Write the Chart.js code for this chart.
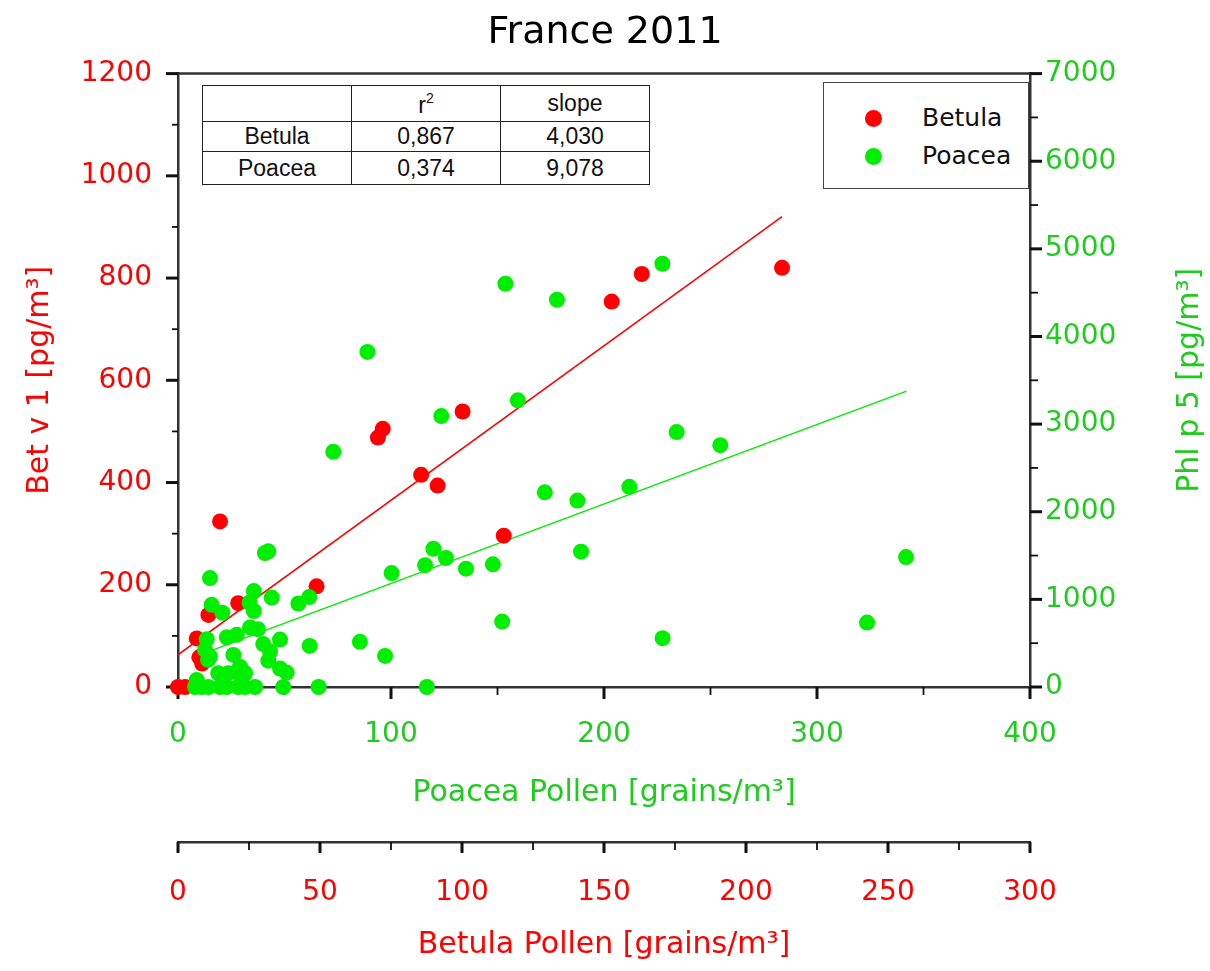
<!DOCTYPE html>
<html>
<head>
<meta charset="utf-8">
<script src="https://cdn.jsdelivr.net/npm/chart.js@4.4.1/dist/chart.umd.min.js"></script>
<style>
html,body{margin:0;padding:0;background:#fff;}
#wrap{position:relative;width:1210px;height:971px;overflow:hidden;}
#c{position:absolute;left:0;top:0;}
table.stats{position:absolute;left:202px;top:85px;border-collapse:collapse;font-family:"Liberation Sans",Arial,sans-serif;font-size:23px;color:#111;background:#fff;}
table.stats td{border:1.5px solid #222;text-align:center;padding:0;width:148px;line-height:1;}
table.stats sup{font-size:14px;vertical-align:10px;}
#legend{position:absolute;left:823px;top:82px;width:204px;height:105px;border:1.5px solid #444;background:#fff;font-family:"DejaVu Sans",sans-serif;font-size:25px;color:#111;}
#legend .row{position:absolute;left:0;height:30px;line-height:30px;}
#legend .dot{position:absolute;left:41px;top:7px;width:17px;height:17px;border-radius:50%;}
#legend .lab{position:absolute;left:98px;top:0;white-space:nowrap;}
</style>
</head>
<body>
<div id="wrap">
<canvas id="c" width="1210" height="971"></canvas>
<table class="stats">
<tr style="height:36px"><td></td><td>r<sup>2</sup></td><td>slope</td></tr>
<tr style="height:30px"><td>Betula</td><td>0,867</td><td>4,030</td></tr>
<tr style="height:33px"><td>Poacea</td><td>0,374</td><td>9,078</td></tr>
</table>
<div id="legend">
<div class="row" style="top:20px"><span class="dot" style="background:#ff0000"></span><span class="lab">Betula</span></div>
<div class="row" style="top:58px"><span class="dot" style="background:#00ee00"></span><span class="lab">Poacea</span></div>
</div>
</div>
<script>
// ---- Data ----
// Betula: pollen (grains/m3, lower red axis) vs Bet v 1 (pg/m3, left axis)
const betulaPollen = [0, 2.5, 6.6, 7.5, 8.5, 10.7, 14.8, 21.2, 48.8, 70.4, 72.1, 85.6, 91.4, 100.2, 114.7, 152.7, 163.3, 212.7];
const betV1        = [0, 0, 95, 58, 46, 141, 324, 164, 197, 488, 505, 415, 394, 539, 296, 754, 808, 820];

// Poacea: pollen (grains/m3, upper green axis) vs Phl p 5 (pg/m3, right axis)
const poaceaPollen = [88.9, 153.7, 177.9, 227.4, 72.9, 123.6, 159.5, 234.1, 254.6, 172.2,
  187.5, 211.9, 189.2, 119.9, 125.8, 116, 100.3, 135.2, 147.8, 152.2,
  227.5, 323.5, 341.8, 85.4, 97.2, 116.8, 66, 40.8, 42.4, 15,
  15.8, 20.8, 35.6, 33.6, 35.6, 44, 56.5, 61.6, 61.8, 47.9,
  33.8, 37.5, 13.5, 22.9, 27.6, 12.7, 15, 14.1, 26, 40,
  43.2, 42.4, 47.9, 51, 29.1, 18.9, 31.5, 23.6, 8, 11.1,
  14.2, 19.7, 22.9, 28.3, 31.5, 36.2, 49.4, 8.8, 29.9];
const phlP5 = [3824, 4602, 4419, 4830, 2684, 3092, 3271, 2909, 2760, 2222,
  2127, 2284, 1544, 1578, 1472, 1390, 1300, 1350, 1400, 747,
  557, 735, 1483, 515, 355, 0, 0, 1529, 1548, 1243,
  938, 847, 1095, 964, 867, 1020, 953, 1026, 469, 541,
  680, 660, 545, 568, 595, 423, 347, 309, 366, 490,
  404, 300, 210, 165, 232, 157, 157, 157, 0, 0,
  0, 0, 0, 0, 0, 0, 0, 80, 100];

// Regression line end points
const betulaFitX = [0, 212.7];
const betulaFitY = [63, 920];
const poaceaFitX = [8, 342];
const poaceaFitY = [347, 3377];

// Tick label values
const poaceaTickLabels = [0, 100, 200, 300, 400];
const betulaTickLabels = [0, 50, 100, 150, 200, 250, 300];
const betV1TickLabels  = [0, 200, 400, 600, 800, 1000, 1200];
const phlP5TickLabels  = [0, 1000, 2000, 3000, 4000, 5000, 6000, 7000];

// ---- Styles ----
const RED = '#ff0000';
const GREEN_PT = '#00ee00';
const GREEN_TXT = '#1ecc1e';
const FONT = '"DejaVu Sans", Verdana, sans-serif';
const AXIS = '#333333';
const TICK_SIZE = 28;
const TITLE_SIZE = 30;

const pts = (xs, ys) => xs.map((x, i) => ({x: x, y: ys[i]}));
const labelCb = (list) => (v) => list.includes(v) ? String(v) : '';

const tickMarks = {
  id: 'tickMarks',
  beforeDatasetsDraw(chart) {
    const ctx = chart.ctx;
    const defs = {
      x:  [poaceaTickLabels, 12, 8],
      x2: [betulaTickLabels, 11, 8],
      y:  [betV1TickLabels, 12, 6],
      y2: [phlP5TickLabels, 12, 8]
    };
    ctx.save();
    ctx.strokeStyle = '#111';
    for (const id in defs) {
      const s = chart.scales[id];
      const [labels, lMaj, lMin] = defs[id];
      s.ticks.forEach(t => {
        const maj = labels.includes(t.value);
        const len = maj ? lMaj : lMin;
        ctx.lineWidth = maj ? 3 : 1.8;
        const p = s.getPixelForValue(t.value);
        ctx.beginPath();
        if (s.isHorizontal()) { ctx.moveTo(p, s.top); ctx.lineTo(p, s.top + len); }
        else if (s.position === 'left') { ctx.moveTo(s.right, p); ctx.lineTo(s.right - len, p); }
        else { ctx.moveTo(s.left, p); ctx.lineTo(s.left + len, p); }
        ctx.stroke();
      });
    }
    // top frame line
    const a = chart.chartArea;
    ctx.strokeStyle = AXIS;
    ctx.lineWidth = 2.5;
    ctx.beginPath();
    ctx.moveTo(a.left, a.top);
    ctx.lineTo(a.right, a.top);
    ctx.stroke();
    // right axis title (reads bottom-to-top)
    ctx.fillStyle = GREEN_TXT;
    ctx.font = TITLE_SIZE + 'px ' + FONT;
    ctx.textAlign = 'center';
    ctx.textBaseline = 'middle';
    ctx.translate(1190, (a.top + a.bottom) / 2);
    ctx.rotate(-Math.PI / 2);
    ctx.fillText('Phl p 5 [pg/m³]', 0, 0);
    ctx.restore();
  }
};

new Chart(document.getElementById('c'), {
  type: 'scatter',
  data: {
    datasets: [
      {label: 'Poacea', data: pts(poaceaPollen, phlP5), xAxisID: 'x', yAxisID: 'y2',
       backgroundColor: GREEN_PT, borderWidth: 0, pointRadius: 8, order: 0, clip: false},
      {label: 'Betula', data: pts(betulaPollen, betV1), xAxisID: 'x2', yAxisID: 'y',
       backgroundColor: RED, borderWidth: 0, pointRadius: 8, order: 1, clip: false},
      {label: 'Betula fit', data: pts(betulaFitX, betulaFitY), xAxisID: 'x2', yAxisID: 'y',
       showLine: true, borderColor: RED, borderWidth: 1.5, pointRadius: 0, order: 2},
      {label: 'Poacea fit', data: pts(poaceaFitX, poaceaFitY), xAxisID: 'x', yAxisID: 'y2',
       showLine: true, borderColor: GREEN_PT, borderWidth: 1.5, pointRadius: 0, order: 3}
    ]
  },
  options: {
    responsive: false,
    animation: false,
    layout: {padding: 0},
    plugins: {
      legend: {display: false},
      tooltip: {enabled: false},
      title: {display: true, text: 'France 2011', color: '#000',
              font: {family: FONT, size: 38, weight: 'normal'}, padding: {top: 10, bottom: 18}}
    },
    scales: {
      x: {
        type: 'linear', position: 'bottom', min: 0, max: 400,
        ticks: {stepSize: 50, autoSkip: false, maxRotation: 0, callback: labelCb(poaceaTickLabels),
                color: GREEN_TXT, font: {family: FONT, size: TICK_SIZE}, padding: 31},
        grid: {drawOnChartArea: false, drawTicks: false},
        border: {color: AXIS, width: 2.5},
        title: {display: true, text: 'Poacea Pollen [grains/m³]', color: GREEN_TXT,
                font: {family: FONT, size: TITLE_SIZE}, padding: {top: 0, bottom: 31}},
        afterFit: s => { s.height = 155; }
      },
      x2: {
        type: 'linear', position: 'bottom', min: 0, max: 300,
        ticks: {stepSize: 25, autoSkip: false, maxRotation: 0, callback: labelCb(betulaTickLabels),
                color: RED, font: {family: FONT, size: TICK_SIZE}, padding: 34},
        grid: {drawOnChartArea: false, drawTicks: false},
        border: {color: AXIS, width: 2.5},
        title: {display: true, text: 'Betula Pollen [grains/m³]', color: RED,
                font: {family: FONT, size: TITLE_SIZE}, padding: {top: 0, bottom: 8}},
        afterFit: s => { s.height = 129; }
      },
      y: {
        type: 'linear', position: 'left', min: 0, max: 1200,
        ticks: {stepSize: 100, autoSkip: false, callback: labelCb(betV1TickLabels),
                color: RED, font: {family: FONT, size: TICK_SIZE}, padding: 26},
        grid: {drawOnChartArea: false, drawTicks: false},
        border: {color: AXIS, width: 2.5},
        title: {display: true, text: 'Bet v 1 [pg/m³]', color: RED,
                font: {family: FONT, size: TITLE_SIZE}, padding: {top: 22, bottom: 0}},
        afterFit: s => { s.width = 178; }
      },
      y2: {
        type: 'linear', position: 'right', min: 0, max: 7000,
        ticks: {stepSize: 500, autoSkip: false, callback: labelCb(phlP5TickLabels),
                color: GREEN_TXT, font: {family: FONT, size: TICK_SIZE}, padding: 15},
        grid: {drawOnChartArea: false, drawTicks: false},
        border: {color: AXIS, width: 2.5},
        title: {display: false},
        afterFit: s => { s.width = 180; }
      }
    }
  },
  plugins: [tickMarks]
});
</script>
</body>
</html>
